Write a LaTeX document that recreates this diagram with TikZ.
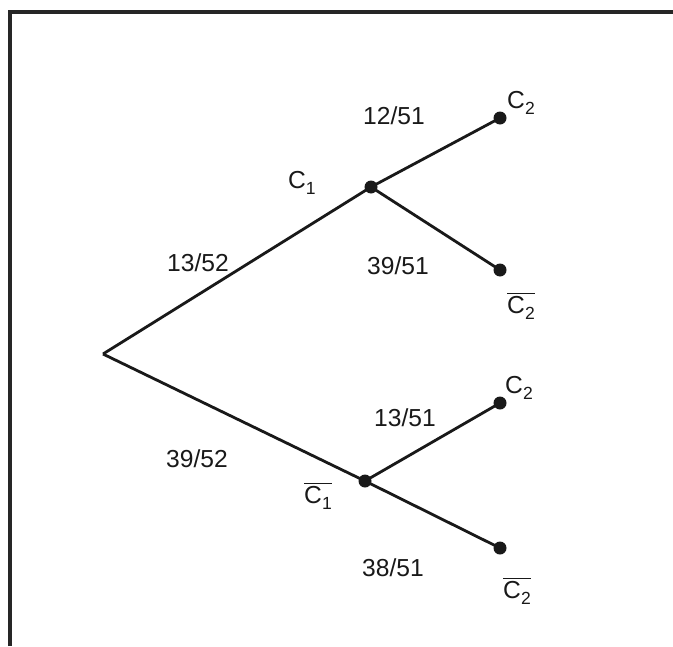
\documentclass[tikz,border=0pt]{standalone}
\usepackage{fontspec}
\setmainfont{Liberation Sans}
\usetikzlibrary{positioning}
\newcommand{\cname}[1]{C\raisebox{-0.45ex}{\fontsize{10}{12}\selectfont #1}}
\newcommand{\cnot}[1]{$\overline{\mbox{\cname{#1}}}$}

\begin{document}
\begin{tikzpicture}[x=0.02cm, y=-0.02cm,
  frame/.style={draw=black!85, line width=2pt},
  branch/.style={draw=black!90, line width=1.6pt},
  dot/.style={circle, fill=black!90, inner sep=0pt, minimum size=0.26cm},
  lbl/.style={font=\fontsize{14}{16}\selectfont, inner sep=0pt, text=black!90}
]
  \useasboundingbox (0,0) rectangle (673,646);
  %% open frame
  \draw[frame] (10,646) -- (10,12) -- (673,12);
  %% tree nodes
  \coordinate (root) at (103,354);
  \node[dot] (c1)  at (371,187) {};
  \node[dot] (n1)  at (365,481) {};
  \node[dot] (c1c2) at (500,118) {};
  \node[dot] (c1n2) at (500,270) {};
  \node[dot] (n1c2) at (500,403) {};
  \node[dot] (n1n2) at (500,548) {};
  %% branches
  \draw[branch] (root) -- (c1.center);
  \draw[branch] (root) -- (n1.center);
  \draw[branch] (c1.center) -- (c1c2.center);
  \draw[branch] (c1.center) -- (c1n2.center);
  \draw[branch] (n1.center) -- (n1c2.center);
  \draw[branch] (n1.center) -- (n1n2.center);
  %% event labels
  \node[lbl] (lc1)   at (302,183) {\cname{1}};
  \node[lbl] (ln1)   at (318,496) {\cnot{1}};
  \node[lbl] (lc1c2) at (521,103) {\cname{2}};
  \node[lbl] (lc1n2) at (521,306) {\cnot{2}};
  \node[lbl] (ln1c2) at (519,388) {\cname{2}};
  \node[lbl] (ln1n2) at (517,591) {\cnot{2}};
  %% probabilities
  \node[lbl] (p1)  at (198,263) {13/52};
  \node[lbl] (p2)  at (197,459) {39/52};
  \node[lbl] (p11) at (394,116) {12/51};
  \node[lbl] (p12) at (398,266) {39/51};
  \node[lbl] (p21) at (405,418) {13/51};
  \node[lbl] (p22) at (393,568) {38/51};
\end{tikzpicture}
\end{document}
